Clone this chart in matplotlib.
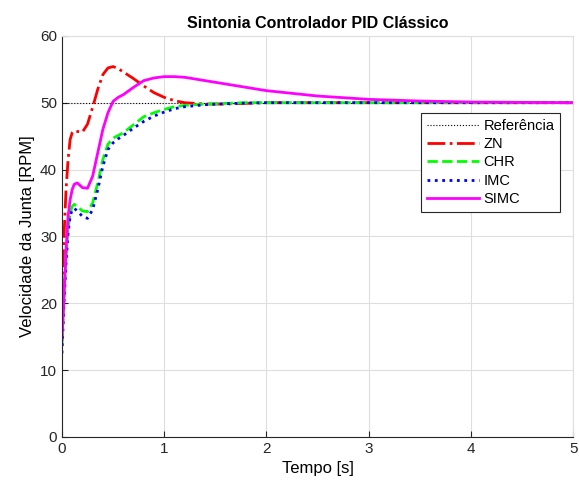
import numpy as np
import matplotlib.pyplot as plt

plt.rcParams['font.family'] = ['Liberation Sans', 'DejaVu Sans']

# Tempo [s]
t = [0, 0.02, 0.04, 0.06, 0.08, 0.1, 0.12, 0.15, 0.2, 0.25, 0.3, 0.35, 0.4,
     0.45, 0.5, 0.55, 0.6, 0.7, 0.8, 0.9, 1.0, 1.1, 1.2, 1.4, 1.6, 1.8, 2.0,
     2.5, 3.0, 3.5, 4.0, 4.5, 5.0]

zn = [21, 30, 37, 41.5, 44.5, 45.5, 45.8, 45.7, 45.6, 46.8, 49.3, 52, 54.2,
      55.2, 55.4, 55.1, 54.6, 53.6, 52.5, 51.5, 50.8, 50.3, 50.0, 49.8, 49.8,
      49.9, 50, 50, 50, 50, 50, 50, 50]

chr_ = [14, 21, 27, 31, 33.5, 34.5, 34.8, 34.5, 33.8, 33.7, 35, 38, 41.5,
        43.8, 44.7, 45.1, 45.5, 46.7, 47.9, 48.5, 49, 49.4, 49.6, 49.8, 49.9,
        50, 50, 50, 50, 50, 50, 50, 50]

imc = [12.5, 20, 26, 30.5, 33, 34, 34.2, 33.8, 33, 32.7, 34, 37, 40.5,
       43, 44, 44.6, 45.1, 46.2, 47.2, 48, 48.6, 49.1, 49.4, 49.7, 49.85,
       49.95, 50, 50, 50, 50, 50, 50, 50]

simc = [14.5, 21, 28, 33, 35.5, 37, 37.8, 38, 37.3, 37.2, 39, 42.5, 46,
        48.5, 50.2, 50.8, 51.2, 52.3, 53.3, 53.7, 53.9, 53.9, 53.8, 53.3,
        52.8, 52.3, 51.8, 51.0, 50.5, 50.25, 50.1, 50.05, 50]

referencia = 50

fig = plt.figure(figsize=(5.79, 4.91), dpi=100)
ax = fig.add_axes([0.107, 0.11, 0.883, 0.817])

ax.plot([0, 5], [referencia, referencia], color='black', linestyle=':', linewidth=0.8, label='Referência')
ax.plot(t, zn, color='red', linestyle='-.', linewidth=2, label='ZN')
ax.plot(t, chr_, color=(0, 1, 0), linestyle='--', linewidth=2, label='CHR')
ax.plot(t, imc, color='blue', linestyle=':', linewidth=2, label='IMC')
ax.plot(t, simc, color='magenta', linestyle='-', linewidth=2, label='SIMC')

ax.set_xlim(0, 5)
ax.set_ylim(0, 60)
ax.set_xticks(range(0, 6))
ax.set_yticks(range(0, 61, 10))
ax.tick_params(direction='in', labelsize=11, length=4, colors='#262626')
ax.grid(True, color='#dedede', linewidth=0.8)
ax.set_axisbelow(True)
for name in ['left', 'bottom']:
    ax.spines[name].set_color('#262626')
    ax.spines[name].set_linewidth(0.8)
for name in ['top', 'right']:
    ax.spines[name].set_color('#dedede')
    ax.spines[name].set_linewidth(0.8)

ax.set_title('Sintonia Controlador PID Clássico', fontsize=11.5, fontweight='bold')
ax.set_xlabel('Tempo [s]', fontsize=12)
ax.set_ylabel('Velocidade da Junta [RPM]', fontsize=12)

leg = ax.legend(loc='upper right', bbox_to_anchor=(0.975, 0.808), borderaxespad=0,
                fontsize=10.5, handlelength=3.6, handletextpad=0.3, labelspacing=0.3,
                fancybox=False, framealpha=1, edgecolor='#262626', borderpad=0.4)
leg.get_frame().set_linewidth(0.8)

fig.savefig('out.png', dpi=100)
